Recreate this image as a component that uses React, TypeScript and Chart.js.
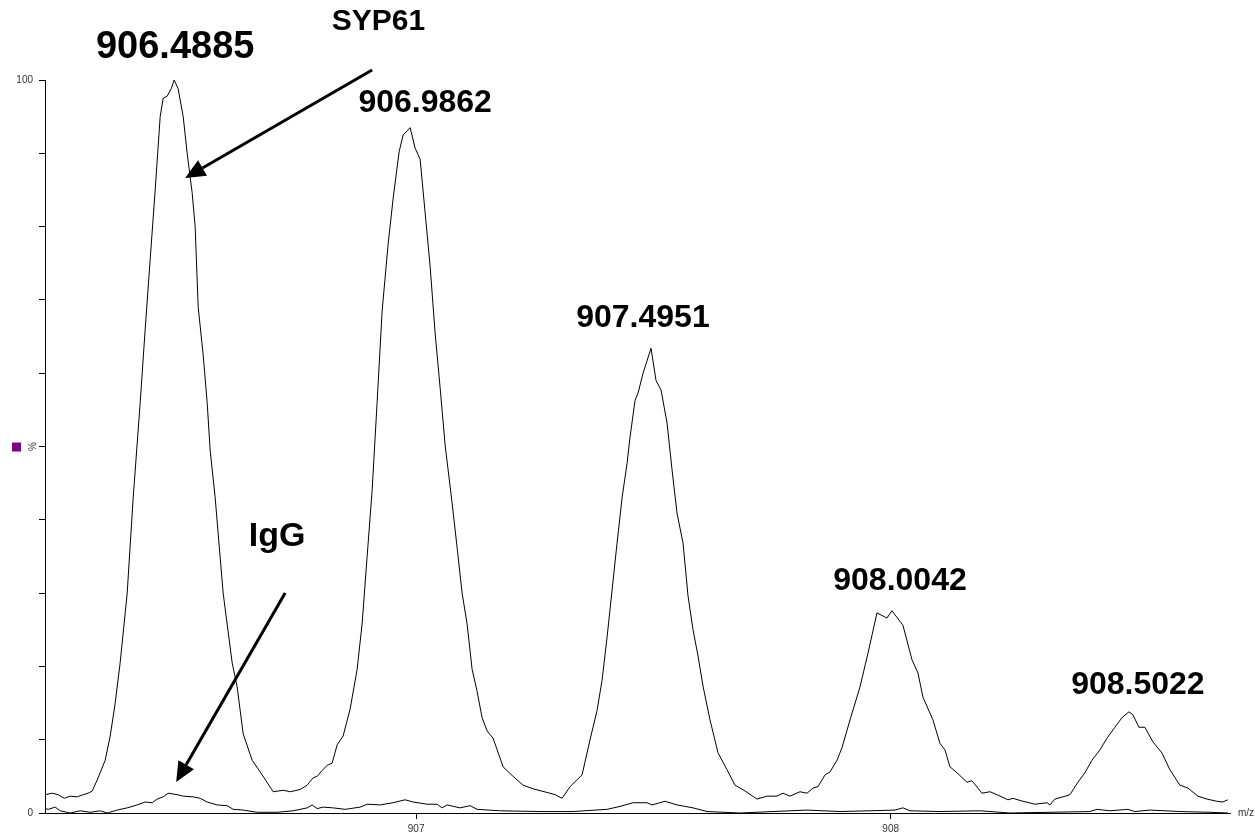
import { useEffect, useRef } from 'react';
import { Chart, registerables } from 'chart.js';

Chart.register(...registerables);

// ---- data ----
const mzSyp61 = [
  906.2184, 906.2332, 906.2458, 906.2585, 906.2711, 906.2859, 906.2985, 906.309, 906.3175, 906.328,
  906.3343, 906.3448, 906.3554, 906.3659, 906.3764, 906.3912, 906.4038, 906.4186, 906.4291, 906.4396,
  906.4502, 906.4607, 906.467, 906.4755, 906.4839, 906.4902, 906.4986, 906.5092, 906.5176, 906.5281,
  906.5344, 906.5408, 906.5513, 906.5597, 906.566, 906.5766, 906.5934, 906.6124, 906.6229, 906.6356,
  906.6545, 906.6756, 906.6988, 906.7198, 906.7346, 906.7556, 906.7704, 906.783, 906.7914, 906.802,
  906.8125, 906.823, 906.8336, 906.8462, 906.861, 906.8757, 906.8862, 906.8968, 906.9073, 906.9178,
  906.9284, 906.941, 906.9515, 906.9642, 906.9726, 906.9874, 906.9979, 907.0084, 907.019, 907.0295,
  907.04, 907.0506, 907.0611, 907.0758, 907.0864, 907.0969, 907.1074, 907.118, 907.1285, 907.139,
  907.1496, 907.1622, 907.1833, 907.2043, 907.2254, 907.2465, 907.276, 907.2928, 907.3076, 907.3244,
  907.3497, 907.3665, 907.3813, 907.3918, 907.4024, 907.4129, 907.4234, 907.434, 907.4445, 907.4508,
  907.4613, 907.4677, 907.4782, 907.495, 907.5056, 907.5161, 907.5288, 907.5393, 907.5498, 907.5625,
  907.573, 907.5835, 907.5941, 907.6046, 907.6193, 907.6362, 907.6551, 907.672, 907.6931, 907.7183,
  907.7394, 907.7605, 907.7731, 907.7879, 907.8089, 907.8237, 907.8363, 907.8469, 907.8616, 907.8721,
  907.8869, 907.8974, 907.9143, 907.9353, 907.9522, 907.9711, 907.9922, 908.0027, 908.0259, 908.0449,
  908.0575, 908.068, 908.0891, 908.1038, 908.1144, 908.1249, 908.1397, 908.1607, 908.1713, 908.1923,
  908.2092, 908.2239, 908.2471, 908.2576, 908.2787, 908.304, 908.3293, 908.3356, 908.3461, 908.363,
  908.3777, 908.3946, 908.4093, 908.4241, 908.4409, 908.4557, 908.4725, 908.4873, 908.502, 908.5104,
  908.5231, 908.5357, 908.5526, 908.5715, 908.5884, 908.6094, 908.6263, 908.6474, 908.6663, 908.6874,
  908.7, 908.7105,
];
const intensitySyp61 = [
  2.5, 2.7, 2.5, 2.0, 2.3, 2.2, 2.5, 2.7, 3.0, 4.5,
  5.5, 7.2, 10.5, 15, 20.5, 30, 43, 56, 66, 75.5,
  85, 95, 97.5, 97.8, 98.8, 100, 98.8, 95, 90, 84.6,
  80, 69, 62.5, 56, 49.5, 43, 30, 20.5, 17.2, 10.8,
  7.2, 5.2, 2.9, 3.1, 2.9, 3.2, 3.8, 4.8, 5.0, 5.8,
  6.5, 6.8, 9.3, 10.5, 14.2, 19.6, 25.8, 35, 44, 56,
  68.5, 77.6, 83.8, 90.2, 92.5, 93.5, 90.7, 89.2, 81.9, 74.6,
  65.5, 58, 50.2, 42.3, 36.2, 30, 25.8, 19.6, 16.6, 13,
  11.2, 10.2, 6.3, 5.0, 3.8, 3.3, 2.8, 2.5, 2.0, 3.6,
  5.2, 10, 14, 18.1, 24, 30.4, 36.8, 43, 47.7, 51.3,
  56.3, 57.3, 60, 63.4, 59, 57.7, 53.2, 46.8, 40.9, 36.8,
  29.6, 25, 21.4, 17.3, 12.7, 8.2, 5.9, 3.8, 3.0, 1.9,
  2.3, 2.3, 2.7, 2.3, 2.9, 2.7, 3.4, 3.6, 5.2, 5.6,
  7.2, 8.9, 12.7, 17.2, 21.8, 27.3, 26.6, 27.6, 25.6, 20.9,
  19.1, 15.8, 12.7, 9.5, 8.6, 6.3, 5.5, 4.2, 4.4, 2.7,
  2.9, 2.5, 1.8, 2.0, 1.6, 1.2, 1.4, 1.1, 1.9, 2.2,
  2.5, 4.2, 5.5, 7.2, 8.6, 10.2, 11.7, 13, 13.8, 13.4,
  11.7, 11.7, 9.7, 8.2, 5.9, 3.8, 3.4, 2.3, 1.9, 1.6,
  1.5, 1.8,
];

const mzIgG = [
  906.2184, 906.2248, 906.2395, 906.2501, 906.2711, 906.2922, 906.3132, 906.3343, 906.3491, 906.3701,
  906.3912, 906.4123, 906.4291, 906.4439, 906.4544, 906.467, 906.4776, 906.4965, 906.5092, 906.5302,
  906.545, 906.5597, 906.5808, 906.6019, 906.6145, 906.6356, 906.6651, 906.7072, 906.7409, 906.7704,
  906.7809, 906.7914, 906.8041, 906.8252, 906.8504, 906.882, 906.8968, 906.9242, 906.9515, 906.9768,
  906.9937, 907.0232, 907.0442, 907.0548, 907.0653, 907.0927, 907.1138, 907.1285, 907.177, 907.2612,
  907.3307, 907.4024, 907.4297, 907.4571, 907.4866, 907.4972, 907.5245, 907.5498, 907.5835, 907.613,
  907.6825, 907.7521, 907.8237, 907.8932, 907.9564, 908.0091, 908.0259, 908.0407, 908.1038, 908.1881,
  908.2513, 908.3356, 908.4198, 908.4346, 908.462, 908.4999, 908.5146, 908.5462, 908.6094, 908.6726,
  908.7105,
];
const intensityIgG = [
  0.6, 0.5, 0.8, 0.3, 0.0, 0.3, 0.1, 0.3, 0.0, 0.4,
  0.7, 1.1, 1.5, 1.4, 1.9, 2.2, 2.7, 2.5, 2.3, 2.2,
  2.0, 1.5, 1.1, 1.0, 0.5, 0.4, 0.1, 0.1, 0.3, 0.7,
  1.1, 0.6, 0.8, 0.7, 0.5, 0.8, 1.2, 1.1, 1.4, 1.8,
  1.5, 1.2, 1.2, 0.7, 1.1, 0.7, 1.0, 0.5, 0.3, 0.2,
  0.2, 0.5, 0.9, 1.4, 1.4, 1.1, 1.6, 1.1, 0.7, 0.2,
  0.0, 0.2, 0.4, 0.2, 0.3, 0.4, 0.7, 0.3, 0.2, 0.3,
  0.0, 0.1, 0.2, 0.5, 0.3, 0.5, 0.2, 0.4, 0.2, 0.1,
  0.0,
];

const xTicks = [907, 908];
const yTicks = [0, 10, 20, 30, 40, 50, 60, 70, 80, 90, 100];
const yTickText: Record<number, string> = { 0: '0', 100: '100' };
const xMin = 906.218;
const xMax = 908.715;

const labelTexts = ['906.4885', 'SYP61', '906.9862', '907.4951', '908.0042', '908.5022', 'IgG'];
const labelMz = [906.4923, 906.9205, 907.019, 907.478, 908.0196, 908.521, 906.7072];
const labelInt = [104.4, 107.9, 96.9, 67.5, 31.65, 17.46, 37.65];
const labelSize = [38, 30, 32, 32, 32, 32, 34];

const arrowFromMz = [906.9073, 906.724];
const arrowFromInt = [101.36, 30.0];
const arrowToMz = [906.5134, 906.4944];
const arrowToInt = [86.63, 4.23];

const FONT = '"Liberation Sans", Arial, Helvetica, sans-serif';

const annotationPlugin = {
  id: 'msAnnotations',
  afterDraw(chart: any) {
    const ctx = chart.ctx as CanvasRenderingContext2D;
    const xs = chart.scales.x;
    const ys = chart.scales.y;
    ctx.save();
    // peak labels
    ctx.fillStyle = '#000';
    ctx.textAlign = 'center';
    ctx.textBaseline = 'middle';
    labelTexts.forEach((t, i) => {
      ctx.font = `bold ${labelSize[i]}px ${FONT}`;
      ctx.fillText(t, xs.getPixelForValue(labelMz[i]), ys.getPixelForValue(labelInt[i]));
    });
    // arrows
    arrowFromMz.forEach((_, i) => {
      const x0 = xs.getPixelForValue(arrowFromMz[i]);
      const y0 = ys.getPixelForValue(arrowFromInt[i]);
      const x1 = xs.getPixelForValue(arrowToMz[i]);
      const y1 = ys.getPixelForValue(arrowToInt[i]);
      const ang = Math.atan2(y1 - y0, x1 - x0);
      const head = 20;
      const half = 9;
      const bx = x1 - head * Math.cos(ang);
      const by = y1 - head * Math.sin(ang);
      ctx.strokeStyle = '#000';
      ctx.lineWidth = 3;
      ctx.beginPath();
      ctx.moveTo(x0, y0);
      ctx.lineTo(bx, by);
      ctx.stroke();
      ctx.beginPath();
      ctx.moveTo(x1, y1);
      ctx.lineTo(bx + half * Math.sin(ang), by - half * Math.cos(ang));
      ctx.lineTo(bx - half * Math.sin(ang), by + half * Math.cos(ang));
      ctx.closePath();
      ctx.fill();
    });
    // y axis title: purple marker and rotated %
    const midY = ys.getPixelForValue(50);
    ctx.fillStyle = '#800080';
    ctx.fillRect(12, midY - 4, 9, 9);
    ctx.fillStyle = '#333';
    ctx.font = `10px ${FONT}`;
    ctx.save();
    ctx.translate(xs.left - 12, midY);
    ctx.rotate(-Math.PI / 2);
    ctx.textAlign = 'center';
    ctx.textBaseline = 'middle';
    ctx.fillText('%', 0, 0);
    ctx.restore();
    // x axis title
    ctx.textAlign = 'left';
    ctx.textBaseline = 'middle';
    ctx.fillText('m/z', xs.right + 8, ys.bottom);
    ctx.restore();
  },
};

export default function App() {
  const ref = useRef<HTMLCanvasElement | null>(null);
  useEffect(() => {
    document.body.style.margin = '0';
    if (!ref.current) return;
    const chart = new Chart(ref.current, {
      type: 'line',
      data: {
        datasets: [
          {
            label: 'SYP61',
            data: mzSyp61.map((m, i) => ({ x: m, y: intensitySyp61[i] })),
            borderColor: '#000',
            borderWidth: 1,
            pointRadius: 0,
            tension: 0,
            fill: false,
          },
          {
            label: 'IgG',
            data: mzIgG.map((m, i) => ({ x: m, y: intensityIgG[i] })),
            borderColor: '#000',
            borderWidth: 1,
            pointRadius: 0,
            tension: 0,
            fill: false,
          },
        ],
      },
      options: {
        animation: false,
        responsive: false,
        layout: { padding: { top: 80, right: 25, left: 0, bottom: 0 } },
        plugins: { legend: { display: false }, tooltip: { enabled: false } },
        scales: {
          x: {
            type: 'linear',
            min: xMin,
            max: xMax,
            afterBuildTicks: (s: any) => {
              s.ticks = xTicks.map((v) => ({ value: v }));
            },
            afterFit: (s: any) => {
              s.height = 20;
            },
            grid: { display: true, drawOnChartArea: false, drawTicks: true, tickLength: 6, color: '#000' },
            border: { display: true, color: '#000', width: 1 },
            ticks: {
              color: '#333',
              font: { family: FONT, size: 10 },
              padding: 4,
              maxRotation: 0,
              autoSkip: false,
              callback: (v: any) => String(v),
            },
          },
          y: {
            type: 'linear',
            min: 0,
            max: 100,
            afterBuildTicks: (s: any) => {
              s.ticks = yTicks.map((v) => ({ value: v }));
            },
            afterFit: (s: any) => {
              s.width = 45;
            },
            grid: { display: true, drawOnChartArea: false, drawTicks: true, tickLength: 6, color: '#000' },
            border: { display: true, color: '#000', width: 1 },
            ticks: {
              color: '#333',
              font: { family: FONT, size: 10 },
              padding: 6,
              autoSkip: false,
              callback: (v: any) => yTickText[v as number] ?? '',
            },
          },
        },
      },
      plugins: [annotationPlugin],
    });
    return () => chart.destroy();
  }, []);
  return (
    <div style={{ width: 1255, height: 833, background: '#fff' }}>
      <canvas ref={ref} width={1255} height={833} />
    </div>
  );
}
